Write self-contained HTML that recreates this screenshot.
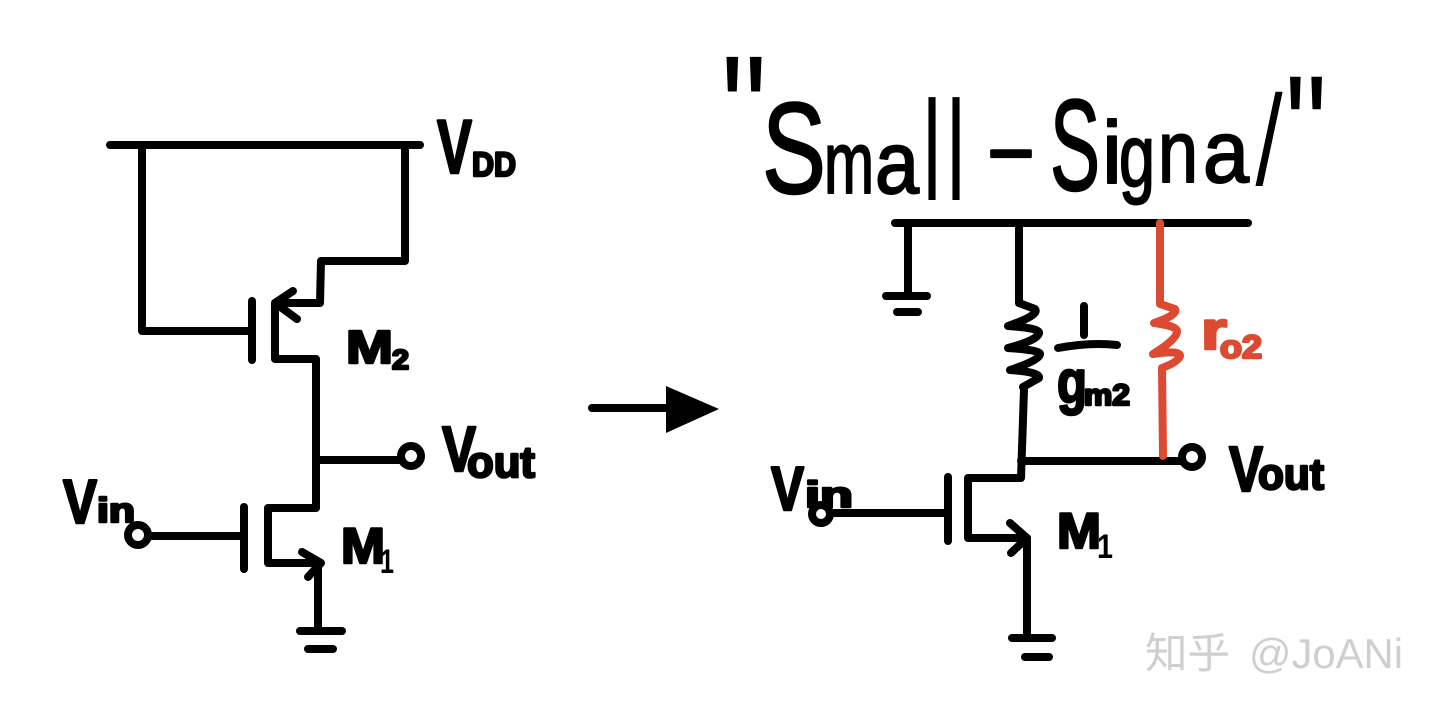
<!DOCTYPE html>
<html><head><meta charset="utf-8"><style>
html,body{margin:0;padding:0;background:#fff;width:1440px;height:711px;overflow:hidden}
svg{display:block}
.w{fill:none;stroke:#000;stroke-width:8;stroke-linecap:round;stroke-linejoin:round}
.r{fill:none;stroke:#dc4a32;stroke-width:8;stroke-linecap:round;stroke-linejoin:round}
text{font-family:"Liberation Sans","Noto Sans CJK SC",sans-serif;fill:#000;stroke:#000;stroke-linejoin:round;stroke-linecap:round}
.b{font-weight:bold;stroke-width:2.5}
.n{stroke-width:2}
.red{fill:#dc4a32;stroke:#dc4a32}
</style></head><body>
<svg width="1440" height="711" viewBox="0 0 1440 711" xmlns="http://www.w3.org/2000/svg">
<rect width="1440" height="711" fill="#fff"/>

<!-- left circuit -->
<g class="w">
<path d="M110 145H420"/>
<path d="M142 145V331H250"/>
<path d="M405 145V261H321L320 303H276"/>
<path d="M293 291L275 303L297 319"/>
<path d="M252 301V360"/>
<path d="M275 303V359H316V508H268V563H320"/>
<path d="M302 552L321 563L308 577"/>
<path d="M318 565V630"/>
<path d="M300 631H342"/>
<path d="M308 649H333"/>
<path d="M244 507V569"/>
<path d="M150 536H244"/>
<circle cx="138" cy="535" r="10"/>
<path d="M316 460H400"/>
<circle cx="411" cy="456" r="10"/>
</g>

<!-- arrow -->
<path d="M592 408H670" class="w"/>
<path d="M666 386L719 409L666 433Z" fill="#000"/>

<!-- right circuit -->
<g class="w">
<path d="M895 223H1248"/>
<path d="M908 223V292"/>
<path d="M886 296H927"/>
<path d="M897 312H918"/>
<path d="M1019 223V303L1035 309Q1040 315 1008 326Q1040 328 1039 333Q1038 340 1008 348Q1040 350 1040 354Q1040 360 1010 370Q1040 372 1039 378L1023 387"/>
<path d="M1024 390L1021 478H968V538H1027"/>
<path d="M948 477V541"/>
<path d="M1010 523L1027 538L1011 553"/>
<path d="M1027 540V635"/>
<path d="M1012 638H1052"/>
<path d="M1025 657H1049"/>
<circle cx="821" cy="514" r="9"/>
<path d="M832 513H945"/>
<path d="M1021 461H1181"/>
<circle cx="1192" cy="457" r="10"/>
<path d="M1058 348Q1090 342 1117 345"/>
<path d="M1084 306V335"/>
</g>
<path class="r" d="M1160 223V304L1175 309Q1178 315 1154 323Q1178 326 1177 332Q1176 340 1153 354Q1180 350 1180 356Q1178 362 1162 368L1163 456"/>

<!-- title -->
<g>
<text x="721" y="167" font-size="160" textLength="46" lengthAdjust="spacingAndGlyphs" style="stroke-width:0">"</text>
<text x="1285" y="180" font-size="150" textLength="42" lengthAdjust="spacingAndGlyphs" style="stroke-width:0">"</text>
<text class="n" x="762" y="193" font-size="130" textLength="64" lengthAdjust="spacingAndGlyphs">S</text>
<text class="n" x="824" y="193" font-size="88" textLength="50" lengthAdjust="spacingAndGlyphs">m</text>
<text class="n" x="875" y="193" font-size="88" textLength="44" lengthAdjust="spacingAndGlyphs">a</text>
<text class="n" x="923" y="200" font-size="142" textLength="18" lengthAdjust="spacingAndGlyphs" style="stroke-width:0">l</text>
<text class="n" x="947" y="200" font-size="142" textLength="18" lengthAdjust="spacingAndGlyphs" style="stroke-width:0">l</text>
<text class="n" x="985" y="177" font-size="88" textLength="52" lengthAdjust="spacingAndGlyphs">-</text>
<text class="n" x="1050" y="190" font-size="130" textLength="50" lengthAdjust="spacingAndGlyphs">S</text>
<text class="n" x="1102" y="183" font-size="88" textLength="20" lengthAdjust="spacingAndGlyphs">i</text>
<text class="n" x="1119" y="186" font-size="88" textLength="36" lengthAdjust="spacingAndGlyphs">g</text>
<text class="n" x="1158" y="182" font-size="88" textLength="40" lengthAdjust="spacingAndGlyphs">n</text>
<text class="n" x="1203" y="182" font-size="88" textLength="46" lengthAdjust="spacingAndGlyphs">a</text>
<text x="0" y="0" font-size="130" textLength="18" lengthAdjust="spacingAndGlyphs" transform="translate(1250 186) skewX(-12)" style="stroke-width:0">l</text>
</g>

<!-- left labels -->
<text class="b" x="437" y="173" font-size="76" textLength="35" lengthAdjust="spacingAndGlyphs">V</text>
<text class="b" x="472" y="176" font-size="34" textLength="44" lengthAdjust="spacingAndGlyphs">DD</text>
<text class="b" x="442" y="471" font-size="64" textLength="34" lengthAdjust="spacingAndGlyphs">V</text>
<text class="b" x="467" y="477" font-size="44" textLength="68" lengthAdjust="spacingAndGlyphs">out</text>
<text class="b" x="63" y="523" font-size="62" textLength="34" lengthAdjust="spacingAndGlyphs">V</text>
<text class="b" x="97" y="522" font-size="34" textLength="38" lengthAdjust="spacingAndGlyphs">in</text>
<text class="b" x="346" y="363" font-size="46" textLength="47" lengthAdjust="spacingAndGlyphs">M</text>
<text class="b" x="392" y="369" font-size="28" textLength="17" lengthAdjust="spacingAndGlyphs">2</text>
<text class="b" x="341" y="563" font-size="50" textLength="44" lengthAdjust="spacingAndGlyphs">M</text>
<text class="b" x="380" y="573" font-size="34" textLength="14" lengthAdjust="spacingAndGlyphs" style="stroke-width:0">1</text>

<!-- right labels -->
<text class="b" x="1229" y="491" font-size="64" textLength="34" lengthAdjust="spacingAndGlyphs">V</text>
<text class="b" x="1258" y="489" font-size="44" textLength="66" lengthAdjust="spacingAndGlyphs">out</text>
<text class="b" x="771" y="510" font-size="62" textLength="33" lengthAdjust="spacingAndGlyphs">V</text>
<text class="b" x="805" y="507" font-size="36" textLength="48" lengthAdjust="spacingAndGlyphs">in</text>
<text class="b" x="1057" y="548" font-size="50" textLength="44" lengthAdjust="spacingAndGlyphs">M</text>
<text class="b" x="1097" y="558" font-size="34" textLength="16" lengthAdjust="spacingAndGlyphs" style="stroke-width:0">1</text>
<text class="b" x="1057" y="402" font-size="60" textLength="30" lengthAdjust="spacingAndGlyphs">g</text>
<text class="b" x="1084" y="405" font-size="30" textLength="46" lengthAdjust="spacingAndGlyphs">m2</text>
<text class="b red" x="1201" y="349" font-size="54" textLength="26" lengthAdjust="spacingAndGlyphs">r</text>
<text class="b red" x="1220" y="358" font-size="32" textLength="42" lengthAdjust="spacingAndGlyphs">o2</text>

<!-- watermark -->
<text x="1145" y="668" font-size="42" textLength="85" lengthAdjust="spacingAndGlyphs" style="fill:#cfcfcf;stroke:none">知乎</text>
<text x="1249" y="668" font-size="42" textLength="154" lengthAdjust="spacingAndGlyphs" style="fill:#cfcfcf;stroke:none">@JoANi</text>
</svg>
</body></html>
